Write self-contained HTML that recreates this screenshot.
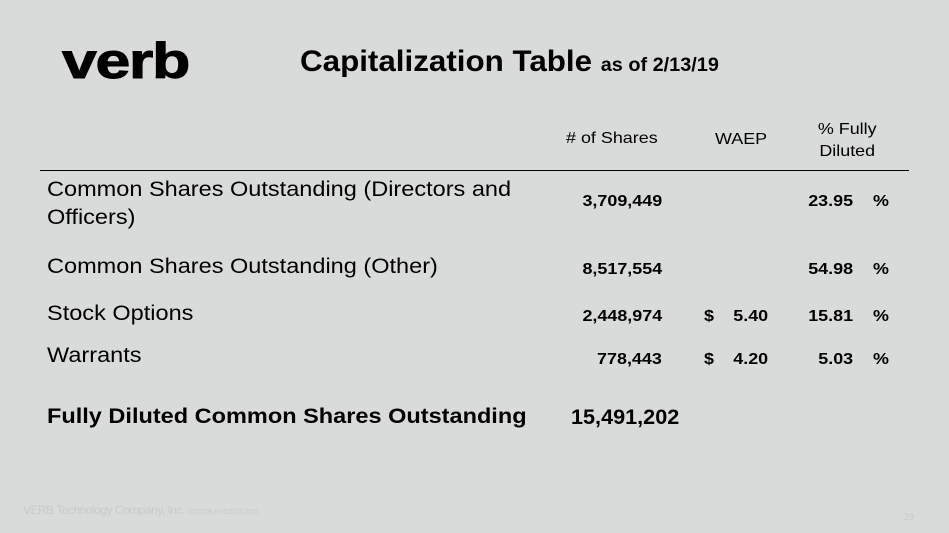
<!DOCTYPE html>
<html><head><meta charset="utf-8"><style>
body{margin:0;width:949px;height:533px;background:#d9dbda;font-family:"Liberation Sans",sans-serif;position:relative;overflow:hidden;color:#000}
.a{position:absolute;white-space:nowrap;transform:scaleX(1.12);transform-origin:left}
.r{transform-origin:right}
.c{transform-origin:center}
.b{font-weight:bold}
</style></head><body>
<div class="a b" style="left:62px;top:32px;font-size:50px;letter-spacing:-1px;transform:scaleX(1.25);-webkit-text-stroke:1px #000">verb</div>
<div class="a b" style="left:300px;top:45px;font-size:30px;transform:scaleX(1.045)">Capitalization Table <span style="font-size:19px">as of 2/13/19</span></div>
<div class="a" style="left:566px;top:130px;font-size:16px"># of Shares</div>
<div class="a" style="left:715px;top:131px;font-size:16px">WAEP</div>
<div class="a c" style="left:821px;top:119px;font-size:16px;text-align:center;line-height:22px">% Fully<br>Diluted</div>
<div class="a" style="left:40px;top:170px;width:869px;height:1px;background:#000;transform:none"></div>
<div class="a" style="left:47px;top:176px;font-size:21px;line-height:28px;white-space:normal;width:440px">Common Shares Outstanding (Directors and Officers)</div>
<div class="a b r" style="right:287px;top:193px;font-size:16px">3,709,449</div>
<div class="a b r" style="right:96px;top:193px;font-size:16px">23.95</div>
<div class="a b" style="left:873px;top:193px;font-size:16px">%</div>
<div class="a" style="left:47px;top:255px;font-size:21px">Common Shares Outstanding (Other)</div>
<div class="a b r" style="right:287px;top:261px;font-size:16px">8,517,554</div>
<div class="a b r" style="right:96px;top:261px;font-size:16px">54.98</div>
<div class="a b" style="left:873px;top:261px;font-size:16px">%</div>
<div class="a" style="left:47px;top:302px;font-size:21px">Stock Options</div>
<div class="a b r" style="right:287px;top:308px;font-size:16px">2,448,974</div>
<div class="a b" style="left:704px;top:308px;font-size:16px">$</div>
<div class="a b r" style="right:181px;top:308px;font-size:16px">5.40</div>
<div class="a b r" style="right:96px;top:308px;font-size:16px">15.81</div>
<div class="a b" style="left:873px;top:308px;font-size:16px">%</div>
<div class="a" style="left:47px;top:344px;font-size:21px">Warrants</div>
<div class="a b r" style="right:287px;top:351px;font-size:16px">778,443</div>
<div class="a b" style="left:704px;top:351px;font-size:16px">$</div>
<div class="a b r" style="right:181px;top:351px;font-size:16px">4.20</div>
<div class="a b r" style="right:96px;top:351px;font-size:16px">5.03</div>
<div class="a b" style="left:873px;top:351px;font-size:16px">%</div>
<div class="a b" style="left:47px;top:405px;font-size:21px">Fully Diluted Common Shares Outstanding</div>
<div class="a b" style="left:571px;top:406px;font-size:21px;transform:scaleX(1.03)">15,491,202</div>
<div class="a" style="left:23px;top:503px;font-size:12px;color:#c8cac9;letter-spacing:-0.5px;transform:none">VERB Technology Company, Inc. <span style="font-size:7px">(OTCQB: FUSZD) © 2019</span></div>
<div class="a" style="left:904px;top:512px;font-size:9px;color:#c8cac9;transform:none">29</div>
</body></html>
